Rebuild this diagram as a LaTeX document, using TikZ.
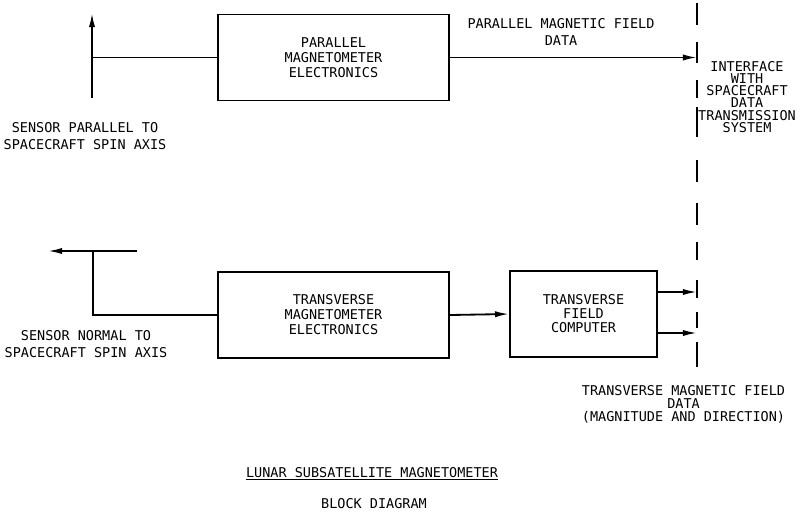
\documentclass[tikz,border=0pt]{standalone}
\usepackage{fontspec}
\usepackage{tikz}
\usetikzlibrary{arrows.meta,positioning,calc}
\newfontfamily\plotter{DejaVu Sans Mono}

\begin{document}
\begin{tikzpicture}[x=0.025cm,y=-0.025cm,>={Latex[length=10pt,width=4.4pt]},
  every node/.style={align=center,inner sep=0pt,font=\plotter\fontsize{9.6}{10.7}\selectfont},
  block/.style={draw,line width=1.3pt,minimum height=2.15cm},
  wire/.style={line width=1.3pt},
  tight/.style={font=\plotter\fontsize{9.6}{8.6}\selectfont},
  loose/.style={font=\plotter\fontsize{9.6}{11.6}\selectfont}]
\useasboundingbox (0,0) rectangle (800,515);
\node[block,minimum width=5.775cm] (pme) at (333.5,57.5) {PARALLEL\\MAGNETOMETER\\ELECTRONICS};
\node[block,minimum width=5.775cm] (tme) at (333.5,315) {TRANSVERSE\\MAGNETOMETER\\ELECTRONICS};
\node[block,minimum width=3.675cm,font=\plotter\fontsize{9.6}{10}\selectfont] (tfc) at (583.5,314) {TRANSVERSE\\FIELD\\COMPUTER};
% interface line
\coordinate (ifc) at (697,0);
\foreach \a/\b in {3/25,42/63,80/98,107/137,160/182,203/225,242/260,280/298,312/328,342/367}
  \draw[wire] (697,\a) -- (697,\b);
\node[tight] (itx) at (747,97) {INTERFACE\\WITH\\SPACECRAFT\\DATA\\TRANSMISSION\\SYSTEM};
% sensors
\coordinate (s1top) at (92,13);
\coordinate (s1bot) at (92,98);
\draw[wire,->] (s1bot) -- (s1top);
\draw[wire] (s1bot |- pme.west) -- (pme.west);
\node[loose] (s1l) at (85,136) {SENSOR PARALLEL TO\\SPACECRAFT SPIN AXIS};
\coordinate (s2left) at (48,251);
\coordinate (s2right) at (137,251);
\coordinate (s2j) at (93,251);
\draw[wire,->] (s2right) -- (s2left);
\draw[wire] (s2j) |- (tme.west);
\node[loose] (s2l) at (86,344) {SENSOR NORMAL TO\\SPACECRAFT SPIN AXIS};
% data paths
\draw[wire,->] (pme.east) -- (pme.east -| ifc);
\node[loose] (pdl) at (561,32) {PARALLEL MAGNETIC FIELD\\DATA};
\draw[wire,->] (tme.east) -- (tfc.west);
\coordinate (o1) at (697,292);
\coordinate (o2) at (697,333);
\draw[wire,->] (tfc.east |- o1) -- (o1);
\draw[wire,->] (tfc.east |- o2) -- (o2);
\node[font=\plotter\fontsize{9.6}{9.2}\selectfont] (tdl) at (683.5,404) {TRANSVERSE MAGNETIC FIELD\\DATA\\(MAGNITUDE AND DIRECTION)};
% title
\node (ttl) at (372,474) {\underline{LUNAR SUBSATELLITE MAGNETOMETER}};
\node (sub) at (374,504) {BLOCK DIAGRAM};
\end{tikzpicture}
\end{document}
